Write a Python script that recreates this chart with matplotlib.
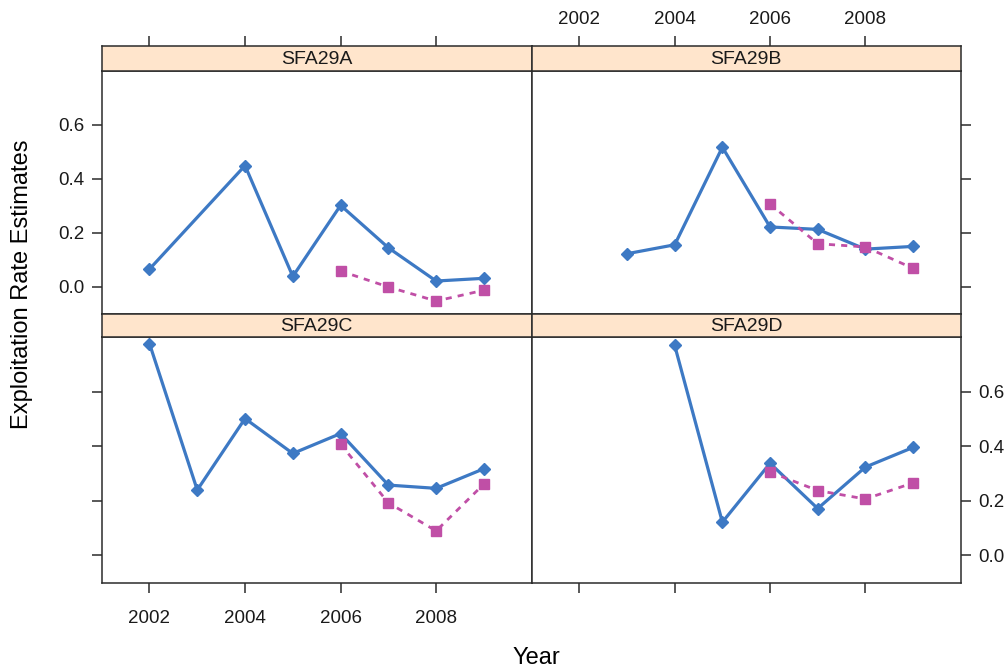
import numpy as np
import matplotlib
matplotlib.use("Agg")
import matplotlib.pyplot as plt

plt.rcParams["font.family"] = ["Liberation Sans", "DejaVu Sans"]

# panels and data
panels = ["SFA29A", "SFA29B", "SFA29C", "SFA29D"]

years_a = [2002, 2004, 2005, 2006, 2007, 2008, 2009]
blue_a = [0.066, 0.449, 0.039, 0.302, 0.145, 0.022, 0.032]
years_b = [2003, 2004, 2005, 2006, 2007, 2008, 2009]
blue_b = [0.123, 0.156, 0.517, 0.222, 0.213, 0.140, 0.150]
years_c = [2002, 2003, 2004, 2005, 2006, 2007, 2008, 2009]
blue_c = [0.777, 0.240, 0.502, 0.374, 0.447, 0.258, 0.246, 0.318]
years_d = [2004, 2005, 2006, 2007, 2008, 2009]
blue_d = [0.770, 0.122, 0.338, 0.172, 0.324, 0.396]

pink_years = [2006, 2007, 2008, 2009]
pink_a = [0.059, 0.000, -0.052, -0.012]
pink_b = [0.307, 0.160, 0.148, 0.069]
pink_c = [0.408, 0.193, 0.090, 0.262]
pink_d = [0.306, 0.238, 0.207, 0.266]

x_ticks = [2002, 2004, 2006, 2008]
y_ticks = [0.0, 0.2, 0.4, 0.6]

BLUE = "#3d79c4"
PINK = "#c04fa6"
STRIP = "#ffe5cc"
EDGE = "#2b2b2b"
TICK_FS = 13.5

W, H = 1008, 668
fig = plt.figure(figsize=(W / 100, H / 100), dpi=100)


def frac(x0, y_top, x1, y_bot):
    return [x0 / W, (H - y_bot) / H, (x1 - x0) / W, (y_bot - y_top) / H]


cols = [(101.7, 531.7), (531.7, 960.7)]
rows = [(45.7, 70.7, 314.0), (314.0, 337.3, 582.7)]

series = [
    (years_a, blue_a, pink_a),
    (years_b, blue_b, pink_b),
    (years_c, blue_c, pink_c),
    (years_d, blue_d, pink_d),
]

for i, name in enumerate(panels):
    r, c = divmod(i, 2)
    x0, x1 = cols[c]
    s_top, p_top, p_bot = rows[r]

    ax = fig.add_axes(frac(x0, p_top, x1, p_bot))
    st = fig.add_axes(frac(x0, s_top, x1, p_top))

    yrs, blue, pink = series[i]
    ax.plot(yrs, blue, color=BLUE, lw=2.3, marker="D", ms=6, mec=BLUE, mfc=BLUE)
    ax.plot(pink_years, pink, color=PINK, lw=2.0, ls=(0, (2.2, 2.2)),
            marker="s", ms=7, mec=PINK, mfc=PINK)

    for a in (ax, st):
        a.set_xlim(2001.0, 2010.0)
        for sp in a.spines.values():
            sp.set_color(EDGE)
            sp.set_linewidth(1.1)
    ax.set_ylim(-0.10, 0.80)

    # strip
    st.set_facecolor(STRIP)
    st.set_ylim(0, 1)
    st.set_yticks([])
    st.text(0.5, 0.45, name, transform=st.transAxes, ha="center", va="center",
            fontsize=14, color="#1a1a1a")

    tick_kw = dict(direction="out", length=7.5, width=1.1, color=EDGE,
                   labelsize=TICK_FS, labelcolor="#1a1a1a")

    # x ticks
    if r == 0:
        ax.set_xticks([])
        st.set_xticks(x_ticks)
        st.tick_params(axis="x", bottom=False, top=True, labelbottom=False,
                       labeltop=(c == 1), pad=5, **tick_kw)
    else:
        st.set_xticks([])
        ax.set_xticks(x_ticks)
        ax.tick_params(axis="x", bottom=True, top=False, labelbottom=(c == 0),
                       labeltop=False, pad=12, **tick_kw)

    # y ticks
    ax.set_yticks(y_ticks)
    ax.set_yticklabels([f"{v:.1f}" for v in y_ticks])
    if c == 0:
        ax.tick_params(axis="y", left=True, right=False, labelleft=(r == 0),
                       labelright=False, pad=5, **tick_kw)
    else:
        ax.tick_params(axis="y", left=False, right=True, labelleft=False,
                       labelright=(r == 1), pad=5, **tick_kw)

fig.text(536 / W, 1 - 658 / H, "Year", ha="center", va="center", fontsize=17)
fig.text(22 / W, 1 - 284 / H, "Exploitation Rate Estimates", ha="center",
         va="center", rotation=90, fontsize=17)

fig.savefig("out.png", dpi=100)
